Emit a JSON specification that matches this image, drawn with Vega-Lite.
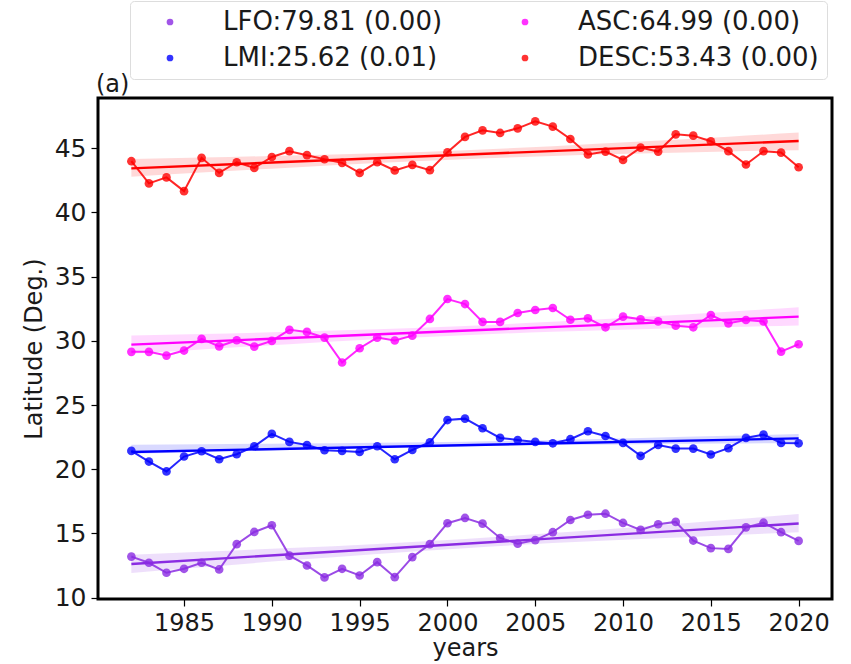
{
  "$schema": "https://vega.github.io/schema/vega-lite/v6.json",
  "autosize": {"type": "none"},
  "width": 734,
  "height": 501,
  "padding": {"left": 98, "top": 98, "right": 19, "bottom": 65},
  "background": "white",
  "config": {
    "font": "DejaVu Sans",
    "view": {"stroke": "black", "strokeWidth": 3},
    "axis": {
      "domain": false,
      "grid": false,
      "tickColor": "black",
      "tickWidth": 1.2,
      "tickSize": 7,
      "labelColor": "#1a1a1a",
      "labelFontSize": 25,
      "labelFont": "DejaVu Sans",
      "titleFont": "DejaVu Sans",
      "titleFontSize": 24,
      "titleFontWeight": "normal",
      "titleColor": "#1a1a1a"
    }
  },
  "title": {
    "text": "(a)",
    "anchor": "start",
    "frame": "group",
    "orient": "top",
    "offset": 2,
    "dx": -2,
    "dy": 98,
    "fontSize": 24,
    "fontWeight": "normal",
    "font": "DejaVu Sans",
    "color": "#1a1a1a"
  },
  "datasets": {
    "lat": [
      {"year": 1982, "series": "LFO", "lat": 13.20}, {"year": 1983, "series": "LFO", "lat": 12.72},
      {"year": 1984, "series": "LFO", "lat": 11.94}, {"year": 1985, "series": "LFO", "lat": 12.25},
      {"year": 1986, "series": "LFO", "lat": 12.72}, {"year": 1987, "series": "LFO", "lat": 12.20},
      {"year": 1988, "series": "LFO", "lat": 14.17}, {"year": 1989, "series": "LFO", "lat": 15.12},
      {"year": 1990, "series": "LFO", "lat": 15.64}, {"year": 1991, "series": "LFO", "lat": 13.28},
      {"year": 1992, "series": "LFO", "lat": 12.51}, {"year": 1993, "series": "LFO", "lat": 11.58},
      {"year": 1994, "series": "LFO", "lat": 12.25}, {"year": 1995, "series": "LFO", "lat": 11.73},
      {"year": 1996, "series": "LFO", "lat": 12.77}, {"year": 1997, "series": "LFO", "lat": 11.60},
      {"year": 1998, "series": "LFO", "lat": 13.16}, {"year": 1999, "series": "LFO", "lat": 14.17},
      {"year": 2000, "series": "LFO", "lat": 15.80}, {"year": 2001, "series": "LFO", "lat": 16.21},
      {"year": 2002, "series": "LFO", "lat": 15.77}, {"year": 2003, "series": "LFO", "lat": 14.65},
      {"year": 2004, "series": "LFO", "lat": 14.21}, {"year": 2005, "series": "LFO", "lat": 14.48},
      {"year": 2006, "series": "LFO", "lat": 15.10}, {"year": 2007, "series": "LFO", "lat": 16.05},
      {"year": 2008, "series": "LFO", "lat": 16.46}, {"year": 2009, "series": "LFO", "lat": 16.54},
      {"year": 2010, "series": "LFO", "lat": 15.82}, {"year": 2011, "series": "LFO", "lat": 15.28},
      {"year": 2012, "series": "LFO", "lat": 15.72}, {"year": 2013, "series": "LFO", "lat": 15.90},
      {"year": 2014, "series": "LFO", "lat": 14.45}, {"year": 2015, "series": "LFO", "lat": 13.86},
      {"year": 2016, "series": "LFO", "lat": 13.80}, {"year": 2017, "series": "LFO", "lat": 15.48},
      {"year": 2018, "series": "LFO", "lat": 15.84}, {"year": 2019, "series": "LFO", "lat": 15.10},
      {"year": 2020, "series": "LFO", "lat": 14.42},

      {"year": 1982, "series": "LMI", "lat": 21.43}, {"year": 1983, "series": "LMI", "lat": 20.60},
      {"year": 1984, "series": "LMI", "lat": 19.83}, {"year": 1985, "series": "LMI", "lat": 20.99},
      {"year": 1986, "series": "LMI", "lat": 21.40}, {"year": 1987, "series": "LMI", "lat": 20.78},
      {"year": 1988, "series": "LMI", "lat": 21.17}, {"year": 1989, "series": "LMI", "lat": 21.79},
      {"year": 1990, "series": "LMI", "lat": 22.75}, {"year": 1991, "series": "LMI", "lat": 22.13},
      {"year": 1992, "series": "LMI", "lat": 21.89}, {"year": 1993, "series": "LMI", "lat": 21.48},
      {"year": 1994, "series": "LMI", "lat": 21.43}, {"year": 1995, "series": "LMI", "lat": 21.35},
      {"year": 1996, "series": "LMI", "lat": 21.79}, {"year": 1997, "series": "LMI", "lat": 20.78},
      {"year": 1998, "series": "LMI", "lat": 21.50}, {"year": 1999, "series": "LMI", "lat": 22.10},
      {"year": 2000, "series": "LMI", "lat": 23.83}, {"year": 2001, "series": "LMI", "lat": 23.94},
      {"year": 2002, "series": "LMI", "lat": 23.19}, {"year": 2003, "series": "LMI", "lat": 22.44},
      {"year": 2004, "series": "LMI", "lat": 22.28}, {"year": 2005, "series": "LMI", "lat": 22.13},
      {"year": 2006, "series": "LMI", "lat": 22.02}, {"year": 2007, "series": "LMI", "lat": 22.34},
      {"year": 2008, "series": "LMI", "lat": 22.96}, {"year": 2009, "series": "LMI", "lat": 22.59},
      {"year": 2010, "series": "LMI", "lat": 22.05}, {"year": 2011, "series": "LMI", "lat": 21.04},
      {"year": 2012, "series": "LMI", "lat": 21.89}, {"year": 2013, "series": "LMI", "lat": 21.61},
      {"year": 2014, "series": "LMI", "lat": 21.61}, {"year": 2015, "series": "LMI", "lat": 21.15},
      {"year": 2016, "series": "LMI", "lat": 21.64}, {"year": 2017, "series": "LMI", "lat": 22.44},
      {"year": 2018, "series": "LMI", "lat": 22.70}, {"year": 2019, "series": "LMI", "lat": 22.05},
      {"year": 2020, "series": "LMI", "lat": 22.02},

      {"year": 1982, "series": "ASC", "lat": 29.14}, {"year": 1983, "series": "ASC", "lat": 29.14},
      {"year": 1984, "series": "ASC", "lat": 28.85}, {"year": 1985, "series": "ASC", "lat": 29.24},
      {"year": 1986, "series": "ASC", "lat": 30.15}, {"year": 1987, "series": "ASC", "lat": 29.57},
      {"year": 1988, "series": "ASC", "lat": 30.04}, {"year": 1989, "series": "ASC", "lat": 29.55},
      {"year": 1990, "series": "ASC", "lat": 29.99}, {"year": 1991, "series": "ASC", "lat": 30.85},
      {"year": 1992, "series": "ASC", "lat": 30.69}, {"year": 1993, "series": "ASC", "lat": 30.25},
      {"year": 1994, "series": "ASC", "lat": 28.31}, {"year": 1995, "series": "ASC", "lat": 29.42},
      {"year": 1996, "series": "ASC", "lat": 30.25}, {"year": 1997, "series": "ASC", "lat": 30.02},
      {"year": 1998, "series": "ASC", "lat": 30.40}, {"year": 1999, "series": "ASC", "lat": 31.70},
      {"year": 2000, "series": "ASC", "lat": 33.25}, {"year": 2001, "series": "ASC", "lat": 32.86},
      {"year": 2002, "series": "ASC", "lat": 31.47}, {"year": 2003, "series": "ASC", "lat": 31.47},
      {"year": 2004, "series": "ASC", "lat": 32.16}, {"year": 2005, "series": "ASC", "lat": 32.40},
      {"year": 2006, "series": "ASC", "lat": 32.55}, {"year": 2007, "series": "ASC", "lat": 31.64},
      {"year": 2008, "series": "ASC", "lat": 31.75}, {"year": 2009, "series": "ASC", "lat": 31.05},
      {"year": 2010, "series": "ASC", "lat": 31.88}, {"year": 2011, "series": "ASC", "lat": 31.67},
      {"year": 2012, "series": "ASC", "lat": 31.51}, {"year": 2013, "series": "ASC", "lat": 31.18},
      {"year": 2014, "series": "ASC", "lat": 31.05}, {"year": 2015, "series": "ASC", "lat": 32.01},
      {"year": 2016, "series": "ASC", "lat": 31.36}, {"year": 2017, "series": "ASC", "lat": 31.62},
      {"year": 2018, "series": "ASC", "lat": 31.51}, {"year": 2019, "series": "ASC", "lat": 29.16},
      {"year": 2020, "series": "ASC", "lat": 29.73},

      {"year": 1982, "series": "DESC", "lat": 43.98}, {"year": 1983, "series": "DESC", "lat": 42.25},
      {"year": 1984, "series": "DESC", "lat": 42.72}, {"year": 1985, "series": "DESC", "lat": 41.65},
      {"year": 1986, "series": "DESC", "lat": 44.24}, {"year": 1987, "series": "DESC", "lat": 43.07},
      {"year": 1988, "series": "DESC", "lat": 43.90}, {"year": 1989, "series": "DESC", "lat": 43.46},
      {"year": 1990, "series": "DESC", "lat": 44.31}, {"year": 1991, "series": "DESC", "lat": 44.76},
      {"year": 1992, "series": "DESC", "lat": 44.45}, {"year": 1993, "series": "DESC", "lat": 44.13},
      {"year": 1994, "series": "DESC", "lat": 43.85}, {"year": 1995, "series": "DESC", "lat": 43.07},
      {"year": 1996, "series": "DESC", "lat": 43.90}, {"year": 1997, "series": "DESC", "lat": 43.26},
      {"year": 1998, "series": "DESC", "lat": 43.69}, {"year": 1999, "series": "DESC", "lat": 43.28},
      {"year": 2000, "series": "DESC", "lat": 44.68}, {"year": 2001, "series": "DESC", "lat": 45.87},
      {"year": 2002, "series": "DESC", "lat": 46.38}, {"year": 2003, "series": "DESC", "lat": 46.18},
      {"year": 2004, "series": "DESC", "lat": 46.54}, {"year": 2005, "series": "DESC", "lat": 47.08},
      {"year": 2006, "series": "DESC", "lat": 46.67}, {"year": 2007, "series": "DESC", "lat": 45.71},
      {"year": 2008, "series": "DESC", "lat": 44.50}, {"year": 2009, "series": "DESC", "lat": 44.73},
      {"year": 2010, "series": "DESC", "lat": 44.08}, {"year": 2011, "series": "DESC", "lat": 45.04},
      {"year": 2012, "series": "DESC", "lat": 44.73}, {"year": 2013, "series": "DESC", "lat": 46.07},
      {"year": 2014, "series": "DESC", "lat": 45.97}, {"year": 2015, "series": "DESC", "lat": 45.53},
      {"year": 2016, "series": "DESC", "lat": 44.76}, {"year": 2017, "series": "DESC", "lat": 43.72},
      {"year": 2018, "series": "DESC", "lat": 44.76}, {"year": 2019, "series": "DESC", "lat": 44.65},
      {"year": 2020, "series": "DESC", "lat": 43.51}
    ],
    "bands": [
      {"series": "LFO", "year": 1982, "lo": 11.93, "hi": 13.35}, {"series": "LFO", "year": 1986, "lo": 12.37, "hi": 13.57},
      {"series": "LFO", "year": 1991, "lo": 12.91, "hi": 13.87}, {"series": "LFO", "year": 1996, "lo": 13.41, "hi": 14.19},
      {"series": "LFO", "year": 2001, "lo": 13.86, "hi": 14.58}, {"series": "LFO", "year": 2006, "lo": 14.25, "hi": 15.03},
      {"series": "LFO", "year": 2011, "lo": 14.57, "hi": 15.53}, {"series": "LFO", "year": 2016, "lo": 14.87, "hi": 16.07},
      {"series": "LFO", "year": 2020, "lo": 15.09, "hi": 16.51},

      {"series": "LMI", "year": 1982, "lo": 21.21, "hi": 21.91}, {"series": "LMI", "year": 1986, "lo": 21.35, "hi": 21.95},
      {"series": "LMI", "year": 1991, "lo": 21.52, "hi": 22.00}, {"series": "LMI", "year": 1996, "lo": 21.67, "hi": 22.07},
      {"series": "LMI", "year": 2001, "lo": 21.79, "hi": 22.15}, {"series": "LMI", "year": 2006, "lo": 21.88, "hi": 22.28},
      {"series": "LMI", "year": 2011, "lo": 21.95, "hi": 22.43}, {"series": "LMI", "year": 2016, "lo": 22.00, "hi": 22.60},
      {"series": "LMI", "year": 2020, "lo": 22.04, "hi": 22.74},

      {"series": "ASC", "year": 1982, "lo": 28.99, "hi": 30.41}, {"series": "ASC", "year": 1986, "lo": 29.33, "hi": 30.53},
      {"series": "ASC", "year": 1991, "lo": 29.74, "hi": 30.70}, {"series": "ASC", "year": 1996, "lo": 30.12, "hi": 30.90},
      {"series": "ASC", "year": 2001, "lo": 30.44, "hi": 31.16}, {"series": "ASC", "year": 2006, "lo": 30.70, "hi": 31.48},
      {"series": "ASC", "year": 2011, "lo": 30.90, "hi": 31.86}, {"series": "ASC", "year": 2016, "lo": 31.07, "hi": 32.27},
      {"series": "ASC", "year": 2020, "lo": 31.19, "hi": 32.61},

      {"series": "DESC", "year": 1982, "lo": 42.77, "hi": 44.15}, {"series": "DESC", "year": 1986, "lo": 43.10, "hi": 44.26},
      {"series": "DESC", "year": 1991, "lo": 43.48, "hi": 44.42}, {"series": "DESC", "year": 1996, "lo": 43.84, "hi": 44.60},
      {"series": "DESC", "year": 2001, "lo": 44.14, "hi": 44.84}, {"series": "DESC", "year": 2006, "lo": 44.39, "hi": 45.15},
      {"series": "DESC", "year": 2011, "lo": 44.57, "hi": 45.51}, {"series": "DESC", "year": 2016, "lo": 44.73, "hi": 45.89},
      {"series": "DESC", "year": 2020, "lo": 44.84, "hi": 46.22}
    ]
  },
  "encoding": {
    "x": {
      "field": "year",
      "type": "quantitative",
      "title": "years",
      "scale": {"domain": [1980.1, 2021.9], "nice": false, "zero": false},
      "axis": {"values": [1985, 1990, 1995, 2000, 2005, 2010, 2015, 2020], "format": "d", "labelFontSize": 24, "labelPadding": 5, "titlePadding": 1, "titleFontSize": 24}
    },
    "color": {
      "field": "series",
      "type": "nominal",
      "scale": {"domain": ["LFO", "ASC", "LMI", "DESC"], "range": ["#8a2be2", "#ff00ff", "#0000ff", "#ff0000"]},
      "legend": {
        "title": null,
        "orient": "none",
        "legendX": 32,
        "legendY": -97,
        "direction": "horizontal",
        "columns": 2,
        "columnPadding": 50,
        "rowPadding": 10,
        "padding": 8,
        "offset": 0,
        "symbolType": "circle",
        "symbolSize": 45,
        "symbolOffset": 19,
        "symbolOpacity": 0.8,
        "symbolStrokeWidth": 0,
        "labelFontSize": 26,
        "labelFont": "DejaVu Sans",
        "labelColor": "#1a1a1a",
        "labelOffset": 40,
        "labelLimit": 400,
        "strokeColor": "#dddddd",
        "cornerRadius": 4,
        "fillColor": "white",
        "labelExpr": "{'LFO': 'LFO:79.81 (0.00)', 'ASC': 'ASC:64.99 (0.00)', 'LMI': 'LMI:25.62 (0.01)', 'DESC': 'DESC:53.43 (0.00)'}[datum.label]"
      }
    }
  },
  "layer": [
    {
      "data": {"name": "bands"},
      "mark": {"type": "area", "fillOpacity": 0.15, "interpolate": "monotone"},
      "encoding": {
        "y": {"field": "lo", "type": "quantitative"},
        "y2": {"field": "hi"}
      }
    },
    {
      "data": {"name": "lat"},
      "transform": [
        {"regression": "lat", "on": "year", "groupby": ["series"]}
      ],
      "mark": {"type": "line", "strokeWidth": 2.4},
      "encoding": {
        "y": {"field": "lat", "type": "quantitative"}
      }
    },
    {
      "data": {"name": "lat"},
      "mark": {"type": "line", "strokeWidth": 2, "strokeOpacity": 0.85},
      "encoding": {
        "y": {"field": "lat", "type": "quantitative"}
      }
    },
    {
      "data": {"name": "lat"},
      "mark": {"type": "point", "filled": true, "size": 75, "opacity": 0.8, "shape": "circle"},
      "encoding": {
        "y": {
          "field": "lat",
          "type": "quantitative",
          "title": "Latitude (Deg.)",
          "scale": {"domain": [9.9, 48.9], "nice": false, "zero": false},
          "axis": {"values": [10, 15, 20, 25, 30, 35, 40, 45], "labelPadding": 5, "titlePadding": 8}
        }
      }
    }
  ]
}
